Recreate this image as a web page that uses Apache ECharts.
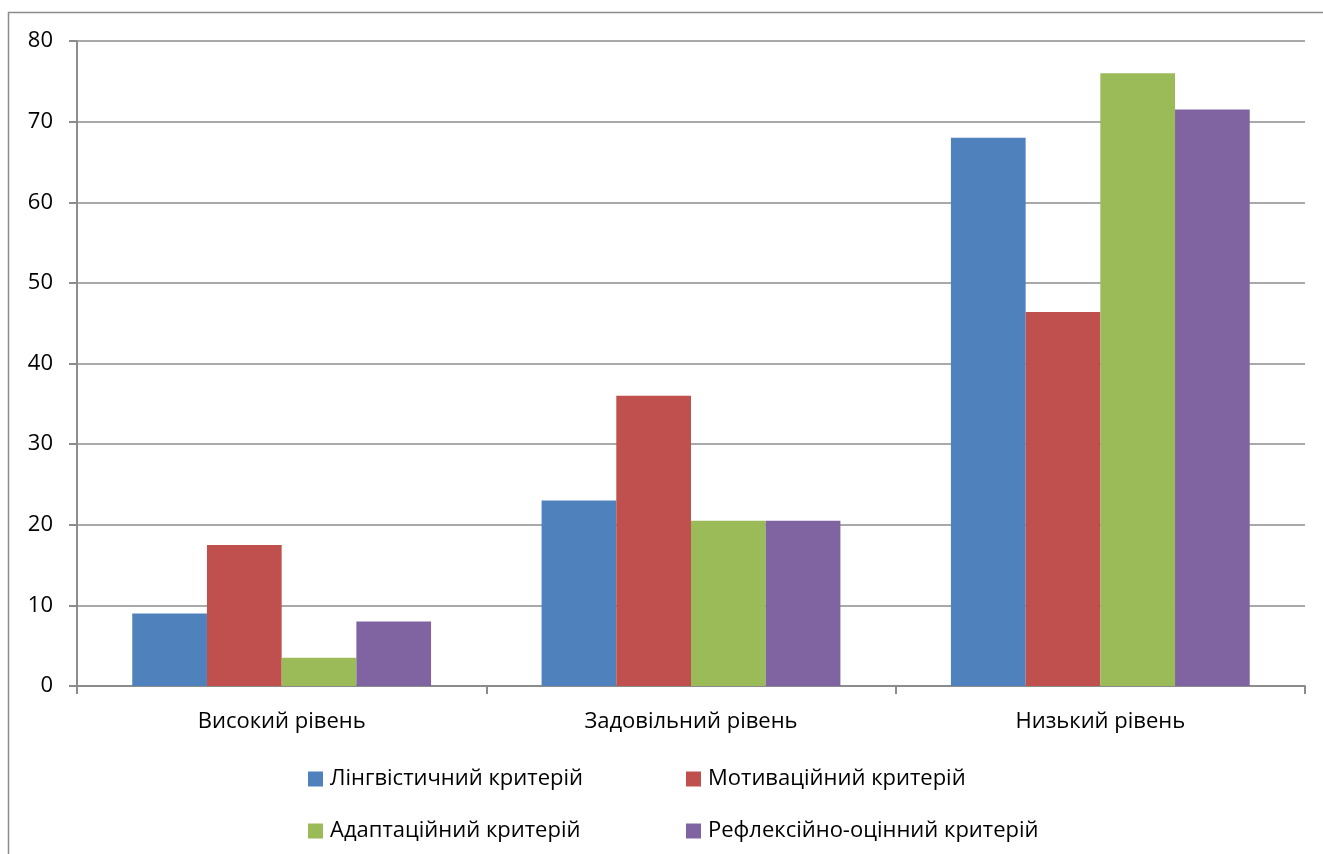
<!DOCTYPE html>
<html><head><meta charset="utf-8">
<script src="https://cdn.jsdelivr.net/npm/echarts@6/dist/echarts.min.js"></script>
<style>html,body{margin:0;padding:0;background:#fff}#c{width:1323px;height:854px}</style>
</head><body><div id="c"></div>
<script>
const categories = ['Високий рівень', 'Задовільний рівень', 'Низький рівень'];
const seriesNames = ['Лінгвістичний критерій', 'Мотиваційний критерій', 'Адаптаційний критерій', 'Рефлексійно-оцінний критерій'];
const lingv = [9, 23, 68];
const motiv = [17.5, 36, 46.4];
const adapt = [3.5, 20.5, 76];
const reflex = [8, 20.5, 71.5];
const colors = ['#4F81BD', '#C0504D', '#9BBB59', '#8064A2'];
const values = [lingv, motiv, adapt, reflex];

const font = 'Open Sans, Noto Sans, sans-serif';
const chart = echarts.init(document.getElementById('c'));
const legendPos = [[303, 763], [681, 763], [303, 815], [681, 815]];
chart.setOption({
  animation: false,
  graphic: [{type: 'rect', shape: {x: 8.5, y: 12.5, width: 1400, height: 900}, style: {fill: 'none', stroke: '#8c8c8c', lineWidth: 1.5}, silent: true}],
  grid: {left: 77, right: 18, top: 41, bottom: 168},
  legend: seriesNames.map((n, i) => ({
    data: [n], left: legendPos[i][0], top: legendPos[i][1], itemWidth: 15, itemHeight: 15, itemGap: 0,
    icon: 'rect', textStyle: {fontFamily: font, fontSize: 22, color: '#000', padding: [0, 0, 0, 2]}
  })),
  xAxis: {
    type: 'category', data: categories,
    axisLine: {lineStyle: {color: '#8c8c8c', width: 2}},
    axisTick: {show: true, length: 8, alignWithLabel: false, lineStyle: {color: '#8c8c8c', width: 2}},
    axisLabel: {fontFamily: font, fontSize: 22, color: '#000', margin: 25}
  },
  yAxis: {
    type: 'value', min: 0, max: 80, interval: 10,
    axisLine: {show: true, lineStyle: {color: '#8c8c8c', width: 2}},
    axisTick: {show: true, length: 8, lineStyle: {color: '#8c8c8c', width: 2}},
    splitLine: {lineStyle: {color: '#8c8c8c', width: 1.5}},
    axisLabel: {fontFamily: font, fontSize: 22, color: '#000', margin: 24}
  },
  series: seriesNames.map((n, i) => ({
    name: n, type: 'bar', data: values[i], barGap: '0%', barCategoryGap: '27%',
    itemStyle: {color: colors[i]}
  }))
});
</script></body></html>
